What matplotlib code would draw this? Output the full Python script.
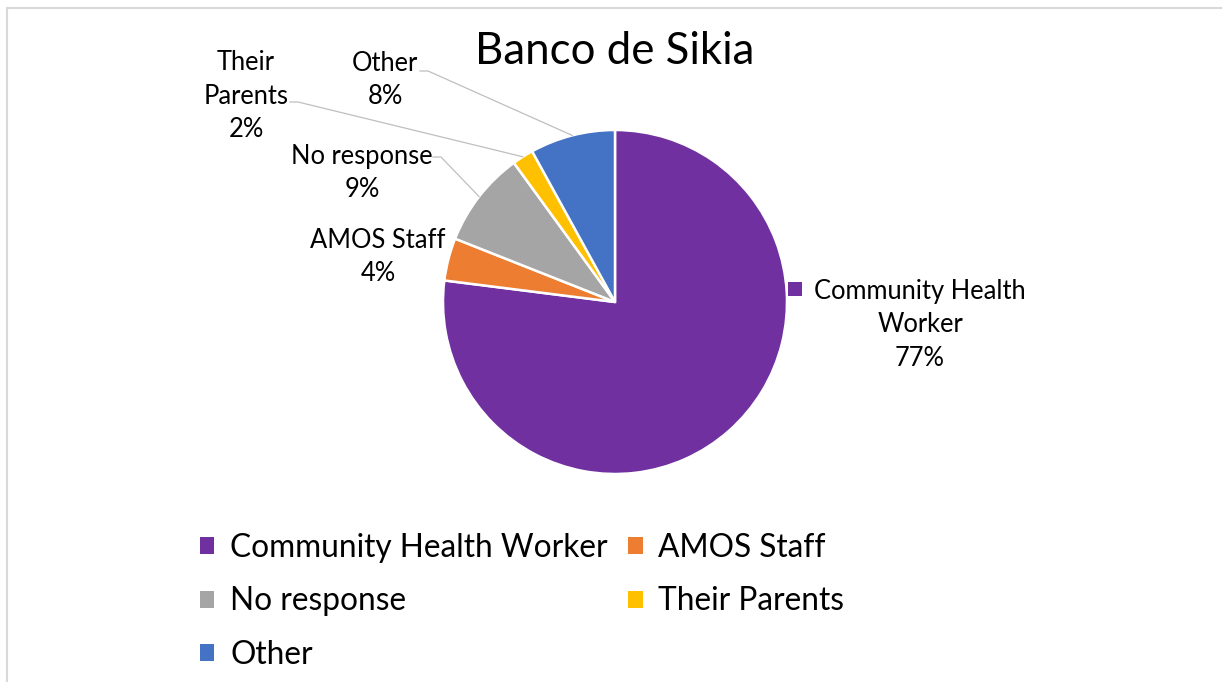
import numpy as np
import matplotlib
matplotlib.use('Agg')
import matplotlib.pyplot as plt

plt.rcParams['font.family'] = ['Lato', 'DejaVu Sans']

# Data
title = 'Banco de Sikia'
categories = ['Community Health Worker', 'AMOS Staff', 'No response', 'Their Parents', 'Other']
values = [77, 4, 9, 2, 8]
colors = ['#7030A0', '#ED7D31', '#A5A5A5', '#FFC000', '#4472C4']

# Data label text (line-broken as in the chart)
label_text = ['Community Health\nWorker', 'AMOS Staff', 'No response', 'Their\nParents', 'Other']

W, H = 1222, 682
fig = plt.figure(figsize=(W / 100, H / 100), dpi=100)
ax = fig.add_axes([0, 0, 1, 1])

cx, cy, r = 615, H - 302, 172
wedges, _ = ax.pie(values, colors=colors, startangle=90, counterclock=False,
                   center=(cx, cy), radius=r,
                   wedgeprops=dict(edgecolor='white', linewidth=1.8))
ax.set_xlim(0, W)
ax.set_ylim(0, H)
ax.set_aspect('equal')
ax.axis('off')

# chart frame (only top and left visible)
ax.plot([6.5, W], [H - 7.5, H - 7.5], color='#D9D9D9', lw=1.5, clip_on=False)
ax.plot([6.5, 6.5], [0, H - 7.5], color='#D9D9D9', lw=1.5, clip_on=False)

ax.text(615, H - 52, title, ha='center', va='center', fontsize=31.5, color='#000000')

total = sum(values)
pct = [f'{v / total * 100:.0f}%' for v in values]

# label positions (center of text block) and leader start points, in pixels from top
label_pos = [(920, 325), (378, 257), (362, 173), (246, 96), (385, 80)]
leader_start = [None, None, (433, 157), (290, 102), (420, 71)]
lab_fs = 18.4

start = 90.0
for i, (v, w) in enumerate(zip(values, wedges)):
    ang = start - v / total * 360 / 2
    start -= v / total * 360
    x, y = label_pos[i]
    ax.text(x, H - y, label_text[i] + '\n' + pct[i], ha='center', va='center',
            fontsize=lab_fs, linespacing=1.42, color='#000000')
    if leader_start[i] is not None:
        ex = cx + r * np.cos(np.radians(ang))
        ey = cy + r * np.sin(np.radians(ang))
        sx, sy = leader_start[i]
        ax.plot([sx, sx + 8, ex], [H - sy, H - sy, ey], color='#BFBFBF', lw=0.9)

# legend key next to the big slice label
ax.scatter([795], [H - 289], marker='s', s=95, color=colors[0], linewidths=0)

order = [0, 2, 4, 1, 3]
leg = fig.legend([wedges[i] for i in order], [categories[i] for i in order],
                 ncol=2, loc='upper left', bbox_to_anchor=(200 / W, 1 - 533 / H),
                 frameon=False, fontsize=22.8, handlelength=0.45, handleheight=0.45,
                 handletextpad=0.5, columnspacing=0.65, labelspacing=0.74,
                 borderpad=0, borderaxespad=0)
for p in leg.get_patches():
    p.set_edgecolor('none')

fig.savefig('out.png', dpi=100)
